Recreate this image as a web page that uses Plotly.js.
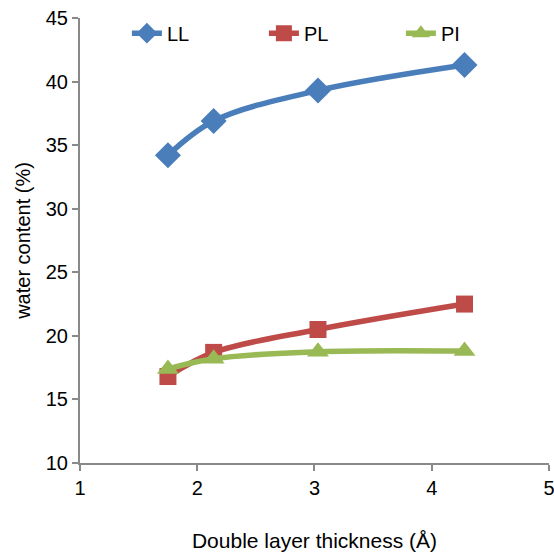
<!DOCTYPE html>
<html><head><meta charset="utf-8">
<script src="https://cdn.plot.ly/plotly-3.0.1.min.js"></script>
<style>html,body{margin:0;padding:0;background:#fff}</style>
</head><body>
<div id="chart" style="width:554px;height:553px"></div>
<script>
const thickness = [1.75, 2.14, 3.03, 4.28];
const LL = [34.2, 36.9, 39.3, 41.3];
const PL = [16.8, 18.7, 20.5, 22.5];
const PI = [17.4, 18.2, 18.75, 18.8];
const seriesNames = ['LL', 'PL', 'PI'];

const font = 'Liberation Sans, Arial, sans-serif';
const mk = (y, name, color, symbol, size) => ({
  x: thickness, y: y, name: name, type: 'scatter', mode: 'lines+markers',
  line: {color: color, width: 5.5, shape: 'spline', smoothing: 1},
  marker: {color: color, symbol: symbol, size: size}
});
const data = [
  mk(LL, seriesNames[0], '#4a7ebb', 'diamond', 20),
  mk(PL, seriesNames[1], '#be4b48', 'square', 17),
  mk(PI, seriesNames[2], '#98b954', 'triangle-up', 19)
];
const layout = {
  width: 554, height: 553,
  margin: {l: 80, r: 5, t: 18, b: 90},
  paper_bgcolor: '#fff', plot_bgcolor: '#fff',
  font: {family: font, size: 20, color: '#000'},
  showlegend: true,
  legend: {orientation: 'h', x: 0.1, y: 0.966, xanchor: 'left', yanchor: 'middle',
           font: {family: font, size: 20}, entrywidth: 92,
           bgcolor: 'rgba(0,0,0,0)'},
  xaxis: {range: [1, 5.0005], dtick: 1, tick0: 1, showgrid: false, zeroline: false,
          showline: true, linecolor: '#898989', linewidth: 2,
          ticks: 'outside', ticklen: 6, tickcolor: '#898989', tickwidth: 2,
          tickfont: {size: 20}, ticklabeloverflow: 'allow',
          title: {text: 'Double layer thickness (Å)', font: {size: 21}, standoff: 35}},
  yaxis: {range: [10, 45], dtick: 5, showgrid: false, zeroline: false,
          showline: true, linecolor: '#898989', linewidth: 2,
          ticks: 'outside', ticklen: 6, tickcolor: '#898989', tickwidth: 2,
          tickfont: {size: 20},
          title: {text: 'water content (%)', font: {size: 20}, standoff: 10}}
};
Plotly.newPlot('chart', data, layout, {displayModeBar: false, staticPlot: true});
</script>
</body></html>
